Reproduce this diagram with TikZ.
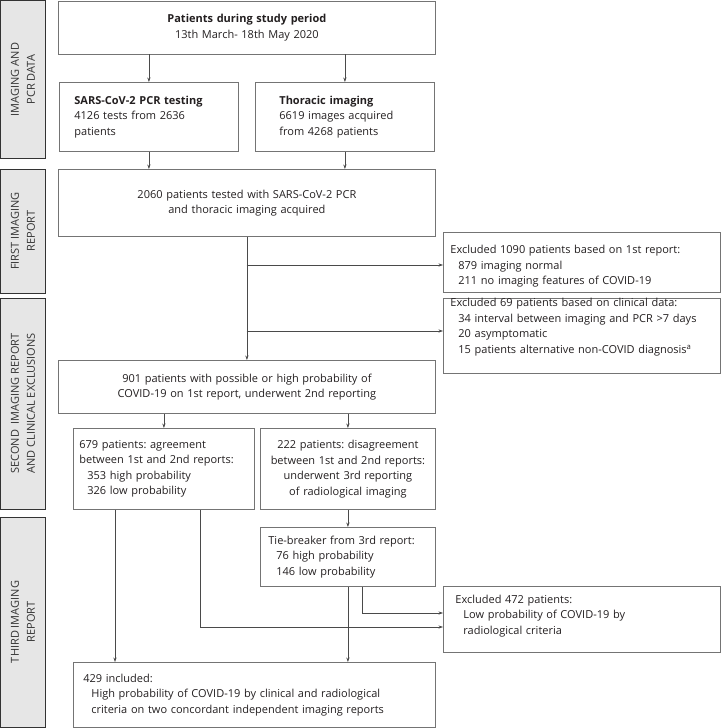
\documentclass[tikz,border=0pt]{standalone}
\usepackage{fontspec}
\setmainfont{Open Sans}
\frenchspacing
\usetikzlibrary{arrows.meta}
\definecolor{bargray}{HTML}{E6E6E6}
\definecolor{boxline}{HTML}{747474}
\definecolor{linkline}{HTML}{4A4A4A}
\definecolor{inktext}{HTML}{231F20}
\tikzset{
  box/.style={draw=boxline, line width=0.8pt, anchor=north west, inner ysep=0pt,
    text=inktext, font=\fontsize{11}{15.5}\selectfont},
  boxsize/.style 2 args={minimum width=#1, minimum height=#2},
  sidebar/.style={draw=black!80, fill=bargray, line width=1pt, rotate=90, inner sep=0pt,
    align=center, text=black!80, font=\fontsize{11}{16}\selectfont},
  link/.style={draw=linkline, line width=0.6pt, -{Stealth[length=4.5pt,width=3.2pt]}},
}
\newcommand{\subl}{\hspace*{8pt}}
\begin{document}
\begin{tikzpicture}[x=1pt,y=-1pt]
  \useasboundingbox (0,0) rectangle (721,728);
  % side bars
  \node[sidebar, minimum width=158pt, minimum height=45pt] (bar1) at (23,79.5) {IMAGING AND\\PCR DATA};
  \node[sidebar, minimum width=124pt, minimum height=45pt] (bar2) at (23,231) {FIRST IMAGING\\REPORT};
  \node[sidebar, minimum width=211pt, minimum height=45pt] (bar3) at (23,403.5) {SECOND\ \ IMAGING REPORT\\AND CLINICAL EXCLUSIONS};
  \node[sidebar, minimum width=210pt, minimum height=45pt] (bar4) at (23,622) {THIRD IMAGING\\REPORT};
  % imaging and PCR data
  \node[box, boxsize={377pt}{53pt}, text width=377pt, inner xsep=0pt, align=center] (period) at (58,0.5)
    {\textbf{Patients during study period}\\13th March- 18th May 2020};
  \node[box, boxsize={179pt}{69pt}, text width=149pt, inner xsep=15pt, align=left] (pcr) at (59,82)
    {\textbf{SARS-CoV-2 PCR testing}\\4126 tests from 2636\\patients};
  \node[box, boxsize={179pt}{69pt}, text width=131pt, inner xsep=24pt, align=left] (thorax) at (255,82)
    {\textbf{Thoracic imaging}\\6619 images acquired\\from 4268 patients};
  % first report
  \node[box, boxsize={377pt}{67pt}, text width=377pt, inner xsep=0pt, align=center] (first) at (58,169)
    {2060 patients tested with SARS-CoV-2 PCR\\and thoracic imaging acquired};
  \node[box, boxsize={277pt}{60pt}, text width=263pt, inner xsep=7pt, align=left] (excl1) at (443,232)
    {\rule{0pt}{16pt}Excluded 1090 patients based on 1st report:\\\subl 879 imaging normal\\\subl 211 no imaging features of COVID-19};
  \node[box, boxsize={277pt}{74pt}, text width=263pt, inner xsep=7pt, align=left] (excl2) at (443,298)
    {Excluded 69 patients based on clinical data:\\\subl 34 interval between imaging and PCR >7 days\\\subl 20 asymptomatic\\\subl 15 patients alternative non-COVID diagnosis\textsuperscript{a}\rule[-20pt]{0pt}{0pt}};
  % second report
  \node[box, boxsize={377pt}{53pt}, text width=377pt, inner xsep=0pt, align=center] (second) at (58,360)
    {901 patients with possible or high probability of\\COVID-19 on 1st report, underwent 2nd reporting};
  \node[box, boxsize={181pt}{81pt}, text width=169pt, inner xsep=6pt, align=left] (agree) at (73,428)
    {679 patients: agreement\\between 1st and 2nd reports:\\\subl 353 high probability\\\subl 326 low probability};
  \node[box, boxsize={175pt}{81pt}, text width=175pt, inner xsep=0pt, align=center] (disagree) at (260,428)
    {222 patients: disagreement\\between 1st and 2nd reports:\\underwent 3rd reporting\\of radiological imaging};
  % third report
  \node[box, boxsize={175pt}{59pt}, text width=159pt, inner xsep=8pt, align=left] (tie) at (260,527)
    {Tie-breaker from 3rd report:\\\subl 76 high probability\\\subl 146 low probability};
  \node[box, boxsize={277pt}{66pt}, text width=253pt, inner xsep=12pt, align=left] (excl3) at (443,586)
    {Excluded 472 patients:\\\subl Low probability of COVID-19 by\\\subl radiological criteria\rule[-10pt]{0pt}{0pt}};
  \node[box, boxsize={362pt}{65pt}, text width=342pt, inner xsep=10pt, align=left] (incl) at (73,662)
    {429 included:\\\subl High probability of COVID-19 by clinical and radiological\\\subl criteria on two concordant independent imaging reports};
  % junctions
  \coordinate (j1) at (246.5,265);
  \coordinate (j2) at (246.5,331);
  \coordinate (k1) at (362,613);
  \coordinate (k2) at (200,627);
  \coordinate (k3) at (115,0);
  % connectors
  \draw[link] (pcr.north |- period.south) -- (pcr.north);
  \draw[link] (thorax.north |- period.south) -- (thorax.north);
  \draw[link] (pcr.south) -- (pcr.south |- first.north);
  \draw[link] (thorax.south) -- (thorax.south |- first.north);
  \draw[link] (first.south) -- (second.north);
  \draw[link] (j1) -- (j1 -| excl1.west);
  \draw[link] (j2) -- (j2 -| excl2.west);
  \draw[link] (agree.north |- second.south) -- (agree.north);
  \draw[link] (disagree.north |- second.south) -- (disagree.north);
  \draw[link] (disagree.south) -- (tie.north);
  \draw[link] (tie.south) -- (tie.south |- incl.north);
  \draw[link] (k1 |- tie.south) |- (k1 -| excl3.west);
  \draw[link] (k2 |- agree.south) |- (k2 -| excl3.west);
  \draw[link] (k3 |- agree.south) -- (k3 |- incl.north);
\end{tikzpicture}
\end{document}
